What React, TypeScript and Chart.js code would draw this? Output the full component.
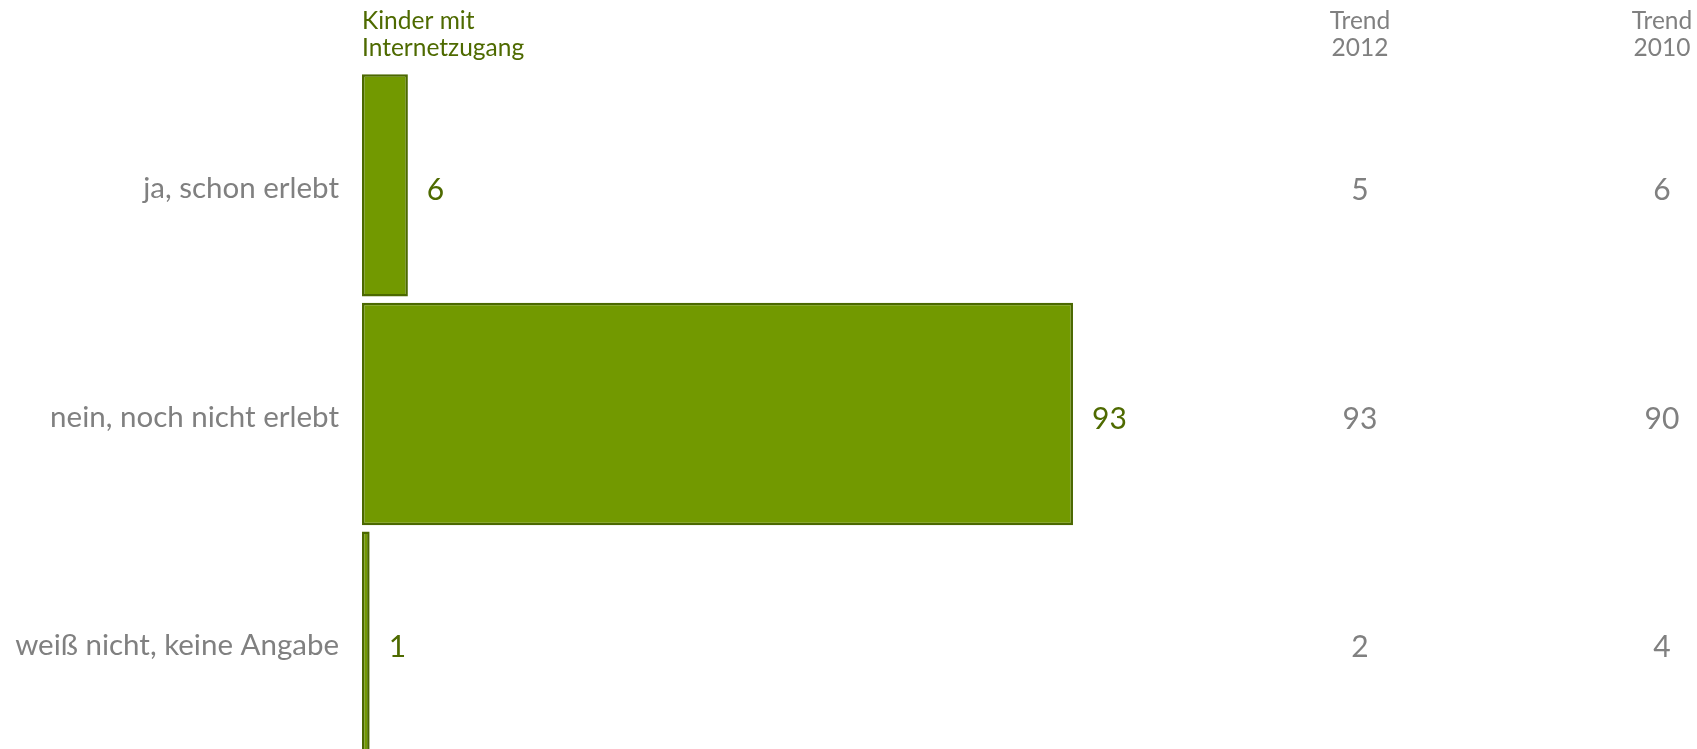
import React, { useEffect, useRef } from "react";
import { Chart, registerables } from "chart.js";

Chart.register(...registerables);

const categories = ["ja, schon erlebt", "nein, noch nicht erlebt", "weiß nicht, keine Angabe"];
const kinderValues = [6, 93, 1];
const trend2012 = [5, 93, 2];
const trend2010 = [6, 90, 4];
const seriesHeader = ["Kinder mit", "Internetzugang"];
const trend2012Header = ["Trend", "2012"];
const trend2010Header = ["Trend", "2010"];

const FONT = "Lato, 'Open Sans', sans-serif";
const GREEN_TEXT = "#4e6a00";
const GREY_TEXT = "#808080";

const overlayPlugin = {
  id: "overlay",
  afterDatasetsDraw(chart: any) {
    const ctx = chart.ctx;
    const area = chart.chartArea;
    const y = chart.scales.y;
    const meta = chart.getDatasetMeta(0);
    ctx.save();
    // series header
    ctx.font = `24.5px ${FONT}`;
    ctx.fillStyle = GREEN_TEXT;
    ctx.textAlign = "left";
    ctx.textBaseline = "alphabetic";
    seriesHeader.forEach((t, i) => ctx.fillText(t, area.left, 29 + i * 27));
    // trend headers
    ctx.fillStyle = GREY_TEXT;
    ctx.textAlign = "center";
    const col2012 = 1360;
    const col2010 = 1662;
    trend2012Header.forEach((t, i) => ctx.fillText(t, col2012, 29 + i * 27));
    trend2010Header.forEach((t, i) => ctx.fillText(t, col2010, 29 + i * 27));
    // values
    ctx.font = `30px ${FONT}`;
    ctx.textBaseline = "middle";
    meta.data.forEach((bar: any, i: number) => {
      ctx.fillStyle = GREEN_TEXT;
      ctx.textAlign = "left";
      ctx.fillText(String(kinderValues[i]), bar.x + 19, bar.y + 5);
      const cy = y.getPixelForValue(i) + 5;
      ctx.fillStyle = GREY_TEXT;
      ctx.textAlign = "center";
      ctx.fillText(String(trend2012[i]), col2012, cy);
      ctx.fillText(String(trend2010[i]), col2010, cy);
    });
    ctx.restore();
  },
};

export default function App() {
  const ref = useRef<HTMLCanvasElement>(null);
  useEffect(() => {
    const chart = new Chart(ref.current as HTMLCanvasElement, {
      type: "bar",
      data: {
        labels: categories,
        datasets: [
          {
            data: kinderValues,
            backgroundColor: "#729900",
            borderColor: "#4b6800",
            borderWidth: 2.5,
            borderSkipped: false,
            barPercentage: 0.972,
            categoryPercentage: 1,
          },
        ],
      },
      options: {
        indexAxis: "y",
        animation: false,
        responsive: false,
        maintainAspectRatio: false,
        layout: { padding: { top: 71, bottom: 3, left: 0, right: 570.5 } },
        plugins: { legend: { display: false }, tooltip: { enabled: false } },
        scales: {
          x: { display: false, min: 0, max: 100 },
          y: {
            grid: { display: false, drawTicks: false },
            border: { display: false },
            ticks: {
              padding: 23,
              labelOffset: 3,
              color: GREY_TEXT,
              font: { family: FONT, size: 29.5 },
            },
            afterFit(scale: any) {
              scale.width = 362;
              scale.paddingTop = 0;
              scale.paddingBottom = 0;
            },
          },
        },
      },
      plugins: [overlayPlugin],
    } as any);
    return () => chart.destroy();
  }, []);
  return (
    <div style={{ position: "fixed", left: 0, top: 0, width: 1697, height: 749, overflow: "hidden", background: "#fff" }}>
      <canvas ref={ref} width={1697} height={760} style={{ display: "block" }} />
    </div>
  );
}
